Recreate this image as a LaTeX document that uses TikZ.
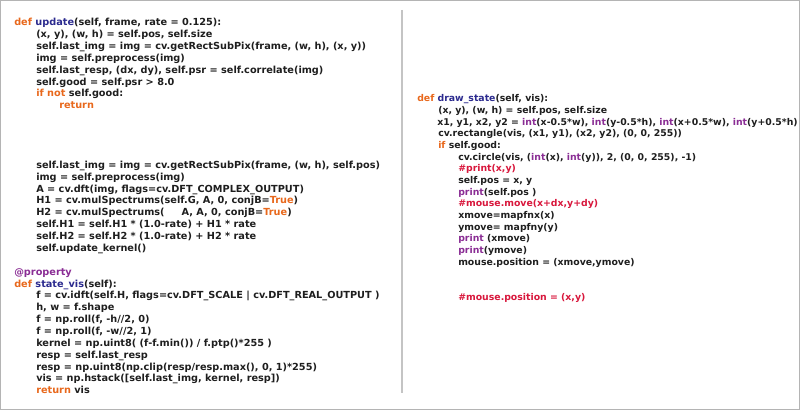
\documentclass[tikz,border=0pt]{standalone}
\usepackage{xcolor}
\usepackage{fontspec}
\usepackage{tikz}

\newfontfamily\codefont{DejaVu Sans}
\definecolor{kwd}{HTML}{E8681C}
\definecolor{fnm}{HTML}{2B2A8E}
\definecolor{bif}{HTML}{8A2D94}
\definecolor{cmt}{HTML}{D8173C}
\definecolor{txt}{HTML}{1E1E1E}
\definecolor{framegray}{HTML}{B4B4B4}
\definecolor{divgray}{HTML}{C4C4C4}
\newcommand{\kwd}[1]{\textcolor{kwd}{#1}}
\newcommand{\fnm}[1]{\textcolor{fnm}{#1}}
\newcommand{\bif}[1]{\textcolor{bif}{#1}}
\newcommand{\cmt}[1]{\textcolor{cmt}{#1}}

\begin{document}
\begin{tikzpicture}[x=0.75pt,y=-0.75pt]
				\tikzstyle{every node}=[anchor=base west, inner sep=0pt, text=txt, font=\codefont\bfseries\fontsize{7.3}{8}\selectfont];
				\tikzstyle{right col}=[font=\codefont\bfseries\fontsize{7.0}{8}\selectfont];
				\useasboundingbox (0,0) rectangle (800,410);
				
				%Frame
				\draw[framegray, line width=1.1pt] (0.6,0.6) rectangle (799.4,409.4);
				\draw[divgray, line width=0.9pt] (402,10) -- (402,393);
				
				%Left column, update
				\node (u0) at (14,25.8) {\kwd{def} \fnm{update}(self, frame, rate = 0.125):};
				\node (u1) at (36,37.7) {(x, y), (w, h) = self.pos, self.size};
				\node (u2) at (36,49.5) {self.last\_img = img = cv.getRectSubPix(frame, (w, h), (x, y))};
				\node (u3) at (36,61.4) {img = self.preprocess(img)};
				\node (u4) at (36,73.3) {self.last\_resp, (dx, dy), self.psr = self.correlate(img)};
				\node (u5) at (36,85.2) {self.good = self.psr > 8.0};
				\node (u6) at (36,97.0) {\kwd{if} \kwd{not} self.good:};
				\node (u7) at (59,108.9) {\kwd{return}};
				
				\node (u12) at (36,168.2) {self.last\_img = img = cv.getRectSubPix(frame, (w, h), self.pos)};
				\node (u13) at (36,180.1) {img = self.preprocess(img)};
				\node (u14) at (36,192.0) {A = cv.dft(img, flags=cv.DFT\_COMPLEX\_OUTPUT)};
				\node (u15) at (36,203.9) {H1 = cv.mulSpectrums(self.G, A, 0, conjB=\kwd{True})};
				\node (u16) at (36,215.7) {H2 = cv.mulSpectrums(~~~~~A, A, 0, conjB=\kwd{True})};
				\node (u17) at (36,227.6) {self.H1 = self.H1 * (1.0-rate) + H1 * rate};
				\node (u18) at (36,239.5) {self.H2 = self.H2 * (1.0-rate) + H2 * rate};
				\node (u19) at (36,251.3) {self.update\_kernel()};
				
				%Left column, state_vis
				\node (s0) at (14,275.1) {\bif{@property}};
				\node (s1) at (14,287.0) {\kwd{def} \fnm{state\_vis}(self):};
				\node (s2) at (36,298.8) {f = cv.idft(self.H, flags=cv.DFT\_SCALE | cv.DFT\_REAL\_OUTPUT )};
				\node (s3) at (36,310.7) {h, w = f.shape};
				\node (s4) at (36,322.6) {f = np.roll(f, -h//2, 0)};
				\node (s5) at (36,334.4) {f = np.roll(f, -w//2, 1)};
				\node (s6) at (36,346.3) {kernel = np.uint8( (f-f.min()) / f.ptp()*255 )};
				\node (s7) at (36,358.2) {resp = self.last\_resp};
				\node (s8) at (36,370.0) {resp = np.uint8(np.clip(resp/resp.max(), 0, 1)*255)};
				\node (s9) at (36,381.9) {vis = np.hstack([self.last\_img, kernel, resp])};
				\node (s10) at (36,393.8) {\kwd{return} vis};
				
				%Right column, draw_state
				\node[right col] (d0) at (417,101.8) {\kwd{def} \fnm{draw\_state}(self, vis):};
				\node[right col] (d1) at (438,113.5) {(x, y), (w, h) = self.pos, self.size};
				\node[right col] (d2) at (437,125.1) {x1, y1, x2, y2 = \bif{int}(x-0.5*w), \bif{int}(y-0.5*h), \bif{int}(x+0.5*w), \bif{int}(y+0.5*h)};
				\node[right col] (d3) at (438,136.8) {cv.rectangle(vis, (x1, y1), (x2, y2), (0, 0, 255))};
				\node[right col] (d4) at (438,148.5) {\kwd{if} self.good:};
				\node[right col] (d5) at (458,160.2) {cv.circle(vis, (\bif{int}(x), \bif{int}(y)), 2, (0, 0, 255), -1)};
				\node[right col] (d6) at (458,171.8) {\cmt{\#print(x,y)}};
				\node[right col] (d7) at (458,183.5) {self.pos = x, y};
				\node[right col] (d8) at (458,195.2) {\bif{print}(self.pos )};
				\node[right col] (d9) at (458,206.8) {\cmt{\#mouse.move(x+dx,y+dy)}};
				\node[right col] (d10) at (458,218.5) {xmove=mapfnx(x)};
				\node[right col] (d11) at (458,230.2) {ymove= mapfny(y)};
				\node[right col] (d12) at (458,241.8) {\bif{print} (xmove)};
				\node[right col] (d13) at (458,253.5) {\bif{print}(ymove)};
				\node[right col] (d14) at (458,265.2) {mouse.position = (xmove,ymove)};
				\node[right col] (d17) at (458,300.2) {\cmt{\#mouse.position = (x,y)}};

			\end{tikzpicture}
\end{document}
